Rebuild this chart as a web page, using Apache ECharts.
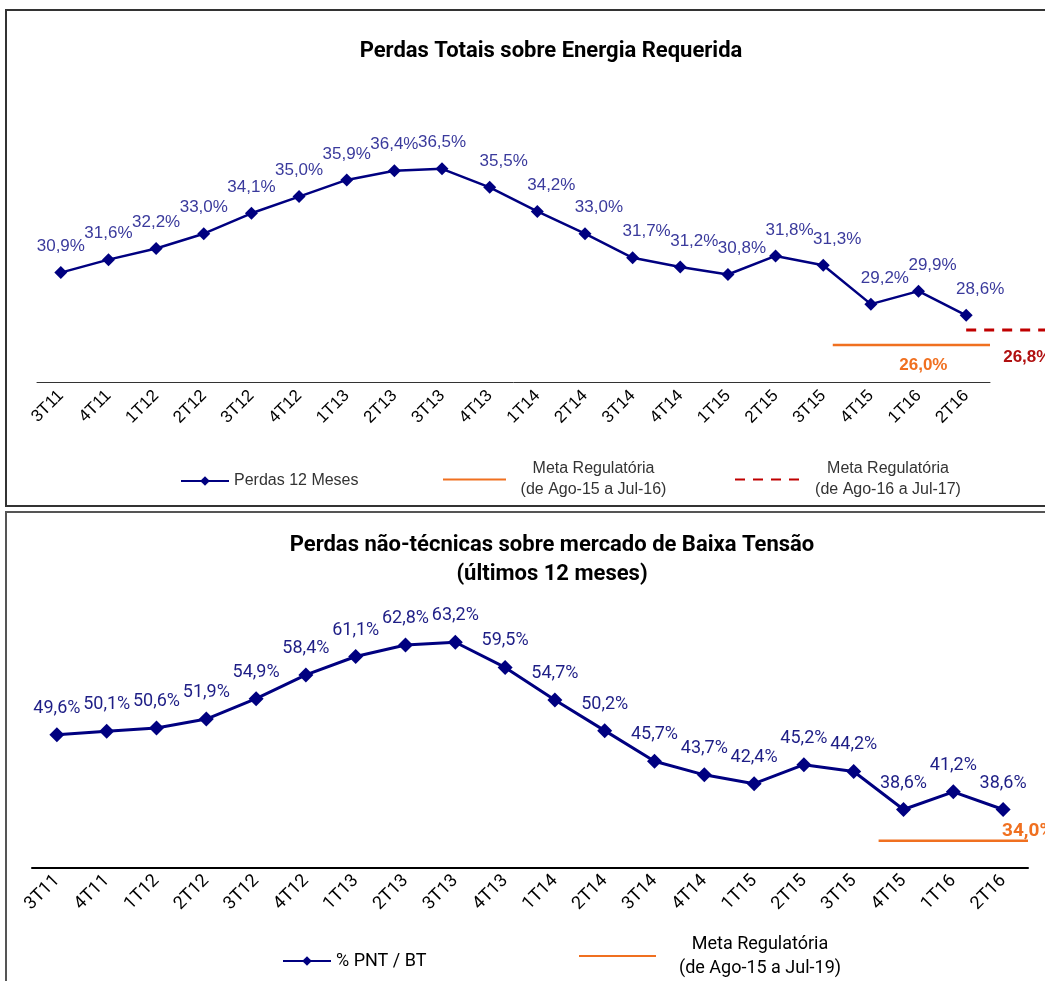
<!DOCTYPE html>
<html>
<head>
<meta charset="utf-8">
<script src="https://cdn.jsdelivr.net/npm/echarts@6/dist/echarts.min.js"></script>
<style>
  html, body { margin: 0; padding: 0; background: #fff; }
  #main { width: 1045px; height: 981px; }
</style>
</head>
<body>
<div id="main"></div>
<script>
// trimestres
var quarters = ['3T11', '4T11', '1T12', '2T12', '3T12', '4T12', '1T13', '2T13', '3T13', '4T13',
                '1T14', '2T14', '3T14', '4T14', '1T15', '2T15', '3T15', '4T15', '1T16', '2T16'];

// Perdas totais sobre energia requerida (%)
var perdas12Meses = [30.9, 31.6, 32.2, 33.0, 34.1, 35.0, 35.9, 36.4, 36.5, 35.5,
                     34.2, 33.0, 31.7, 31.2, 30.8, 31.8, 31.3, 29.2, 29.9, 28.6];

// Perdas nao-tecnicas sobre BT (%)
var pntBT = [49.6, 50.1, 50.6, 51.9, 54.9, 58.4, 61.1, 62.8, 63.2, 59.5,
             54.7, 50.2, 45.7, 43.7, 42.4, 45.2, 44.2, 38.6, 41.2, 38.6];

// metas regulatorias: valor e periodo (em trimestres a partir de 3T11)
var metaAgo15Jul16 = 26.0;
var metaAgo16Jul17 = 26.8;
var metaAgo15Jul19 = 34.0;
var periodoMeta1516 = [16.7, 20];
var periodoMeta1617 = [19.5, 21.2];
var periodoMetaBT = [17, 20];

var nomeMeta1516 = 'Meta Regulatória\n(de Ago-15 a Jul-16)';
var nomeMeta1617 = 'Meta Regulatória\n(de Ago-16 a Jul-17)';
var nomeMetaBT = 'Meta Regulatória\n(de Ago-15 a Jul-19)';

var NARROW = 'Roboto, "Liberation Sans", sans-serif';
var ARIAL = '"Liberation Sans", Arial, sans-serif';

// grade do grafico de cima e grade auxiliar das metas (vai ate a borda direita)
var TOP_LEFT = 37, TOP_W = 953, META_W = 1045 - 37;

function pct(v) {
    return v.toFixed(1).replace('.', ',') + '%';
}

function metaLegendFmt(name) {
    var p = name.split('\n');
    return '{a|' + p[0] + '}\n{a|' + p[1] + '}';
}

var chart = echarts.init(document.getElementById('main'));

var option = {
    animation: false,
    backgroundColor: '#fff',
    graphic: [
        { type: 'rect', shape: { x: 6, y: 10, width: 1100, height: 496 },
          style: { fill: 'none', stroke: '#333', lineWidth: 2 } },
        { type: 'rect', shape: { x: 6, y: 512, width: 1100, height: 600 },
          style: { fill: 'none', stroke: '#555', lineWidth: 2 } }
    ],
    title: [{
        text: 'Perdas Totais sobre Energia Requerida',
        left: 546, top: 35, textAlign: 'center',
        textStyle: { fontFamily: NARROW, fontSize: 22, fontWeight: 'bold', color: '#000' }
    }, {
        text: 'Perdas não-técnicas sobre mercado de Baixa Tensão\n(últimos 12 meses)',
        left: 547, top: 526, textAlign: 'center',
        textStyle: { fontFamily: NARROW, fontSize: 22, fontWeight: 'bold', color: '#000', lineHeight: 29 }
    }],
    legend: [{
        data: ['Perdas 12 Meses'], left: 175, top: 468,
        itemWidth: 48, itemHeight: 12,
        textStyle: { fontFamily: ARIAL, fontSize: 16, color: '#333' }
    }, {
        data: [nomeMeta1516], left: 437, top: 456,
        itemWidth: 63, itemHeight: 10,
        itemStyle: { opacity: 0 },
        formatter: metaLegendFmt,
        textStyle: { rich: { a: { fontFamily: ARIAL, fontSize: 16, color: '#333', width: 165, align: 'center', lineHeight: 21 } } }
    }, {
        data: [nomeMeta1617], left: 729, top: 456,
        itemWidth: 66, itemHeight: 10,
        itemStyle: { opacity: 0 },
        formatter: metaLegendFmt,
        textStyle: { rich: { a: { fontFamily: ARIAL, fontSize: 16, color: '#333', width: 164, align: 'center', lineHeight: 21 } } }
    }, {
        data: ['% PNT / BT'], left: 277, top: 947,
        itemWidth: 48, itemHeight: 12,
        textStyle: { fontFamily: NARROW, fontSize: 18, color: '#000' }
    }, {
        data: [nomeMetaBT], left: 573, top: 930,
        itemWidth: 77, itemHeight: 10,
        itemStyle: { opacity: 0 },
        formatter: metaLegendFmt,
        textStyle: { rich: { a: { fontFamily: NARROW, fontSize: 18, color: '#000', width: 198, align: 'center', lineHeight: 24 } } }
    }],
    grid: [
        { left: TOP_LEFT, width: TOP_W, top: 141, height: 241 },
        { left: 32, width: 996, top: 596, height: 272 },
        { left: TOP_LEFT, width: META_W, top: 141, height: 241 }
    ],
    xAxis: [{
        type: 'category', gridIndex: 0, data: quarters, boundaryGap: true,
        axisLine: { lineStyle: { color: '#333', width: 1 } },
        axisTick: { length: 7, lineStyle: { color: '#333' } },
        axisLabel: { rotate: 45, margin: 11, fontFamily: ARIAL, fontSize: 17, color: '#000' }
    }, {
        type: 'category', gridIndex: 1, data: quarters, boundaryGap: true,
        axisLine: { lineStyle: { color: '#000', width: 2 } },
        axisTick: { length: 6, lineStyle: { color: '#000', width: 1 } },
        axisLabel: { rotate: 45, margin: 10, fontFamily: NARROW, fontSize: 18, color: '#000' }
    }, {
        type: 'value', gridIndex: 1, min: 0, max: 20, show: false
    }, {
        // mesma escala de trimestres do eixo de cima, estendida ate a borda
        type: 'value', gridIndex: 2, min: 0, max: 20 * META_W / TOP_W, show: false
    }],
    yAxis: [
        { type: 'value', gridIndex: 0, min: 25, max: 38, show: false },
        { type: 'value', gridIndex: 1, min: 30, max: 70, show: false },
        { type: 'value', gridIndex: 2, min: 24, max: 37, show: false }
    ],
    series: [{
        name: 'Perdas 12 Meses', type: 'line',
        xAxisIndex: 0, yAxisIndex: 0,
        data: perdas12Meses.map(function (v, i) {
            // rotulos deslocados para a direita na parte descendente
            return i >= 9 ? { value: v, label: { offset: [14, 0] } } : v;
        }),
        symbol: 'diamond', symbolSize: 13,
        itemStyle: { color: '#000080' },
        lineStyle: { color: '#000080', width: 2.5 },
        label: {
            show: true, position: 'top', distance: 11,
            fontFamily: ARIAL, fontSize: 17, color: '#3a3a9c',
            formatter: function (p) { return pct(p.value); }
        }
    }, {
        name: nomeMeta1516, type: 'line',
        xAxisIndex: 3, yAxisIndex: 2,
        data: periodoMeta1516.map(function (x) { return [x, metaAgo15Jul16]; }),
        symbol: 'none',
        itemStyle: { color: '#f07020' },
        lineStyle: { color: '#f07020', width: 2.5 },
        markPoint: {
            symbol: 'rect', symbolSize: 0,
            data: [{ coord: [(periodoMeta1516[0] + periodoMeta1516[1]) / 2, metaAgo15Jul16] }],
            label: {
                show: true, offset: [12, 20],
                fontFamily: ARIAL, fontSize: 17, fontWeight: 'bold', color: '#f07020',
                formatter: function () { return pct(metaAgo15Jul16); }
            }
        }
    }, {
        name: nomeMeta1617, type: 'line',
        xAxisIndex: 3, yAxisIndex: 2,
        data: periodoMeta1617.map(function (x) { return [x, metaAgo16Jul17]; }),
        symbol: 'none',
        itemStyle: { color: '#c00000' },
        lineStyle: { color: '#c00000', width: 3, type: [10, 8] },
        markPoint: {
            symbol: 'rect', symbolSize: 0,
            data: [{ coord: [periodoMeta1617[0], metaAgo16Jul17] }],
            label: {
                show: true, align: 'left', offset: [37, 27],
                fontFamily: ARIAL, fontSize: 17, fontWeight: 'bold', color: '#b01010',
                formatter: function () { return pct(metaAgo16Jul17); }
            }
        }
    }, {
        name: '% PNT / BT', type: 'line',
        xAxisIndex: 1, yAxisIndex: 1,
        data: pntBT,
        symbol: 'diamond', symbolSize: 15,
        itemStyle: { color: '#000080' },
        lineStyle: { color: '#000080', width: 3 },
        label: {
            show: true, position: 'top', distance: 10,
            fontFamily: NARROW, fontSize: 18, color: '#1e1e86',
            formatter: function (p) { return pct(p.value); }
        }
    }, {
        name: nomeMetaBT, type: 'line',
        xAxisIndex: 2, yAxisIndex: 1,
        data: periodoMetaBT.map(function (x) { return [x, metaAgo15Jul19]; }),
        symbol: 'none',
        itemStyle: { color: '#f07020' },
        lineStyle: { color: '#f07020', width: 2.5 },
        markPoint: {
            symbol: 'rect', symbolSize: 0,
            data: [{ coord: [periodoMetaBT[1], metaAgo15Jul19] }],
            label: {
                show: true, align: 'left', offset: [-26, -10],
                fontFamily: NARROW, fontSize: 19, fontWeight: 'bold', color: '#f07020',
                formatter: function () { return pct(metaAgo15Jul19); }
            }
        }
    }]
};

chart.setOption(option);
</script>
</body>
</html>
